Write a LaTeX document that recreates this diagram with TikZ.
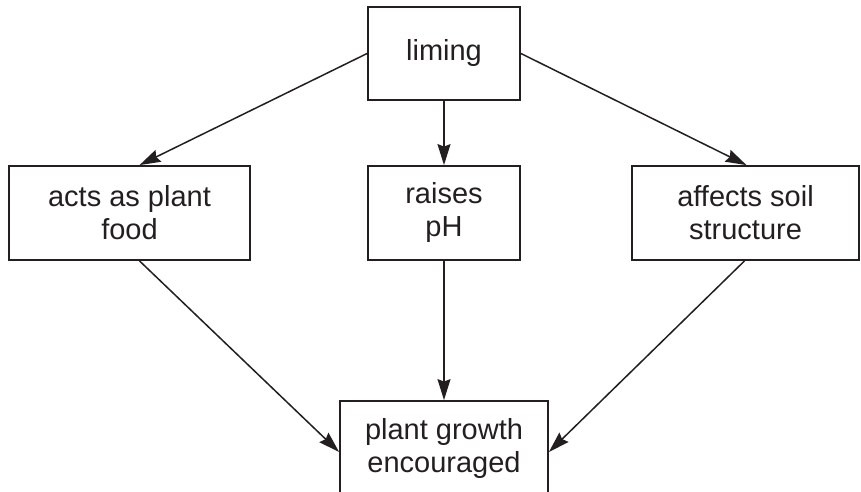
\documentclass[tikz,border=0pt]{standalone}
\usepackage{fontspec}
\setmainfont{Liberation Sans}
\usetikzlibrary{arrows.meta}
\definecolor{ink}{HTML}{231F20}
\begin{document}
\begin{tikzpicture}[x=1pt,y=-1pt,
  box/.style={draw=ink,line width=1.8pt,text=ink,align=center,inner sep=0pt,
    font=\fontsize{29}{33}\selectfont},
  arr/.style={draw=ink,line width=1.5pt,-{Stealth[length=21pt,width=13pt,inset=2.5pt]}}]
\useasboundingbox (0,0) rectangle (861,492);
\clip (0,0) rectangle (861,492);
\node[box,minimum width=152pt,minimum height=93pt] (lim) at (444,53.5) {liming};
\node[box,minimum width=241pt,minimum height=94pt] (lft) at (129.5,213) {acts as plant\\food};
\node[box,minimum width=152pt,minimum height=94pt] (mid) at (444,213) {raises\\pH};
\node[box,minimum width=227pt,minimum height=94pt] (rgt) at (745.5,213) {affects soil\\structure};
\node[box,minimum width=208pt,minimum height=94pt] (bot) at (444,448) {plant growth\\encouraged};
\draw[arr] (lim.west) -- ([xshift=10pt]lft.north);
\draw[arr] (lim.south) -- (mid.north);
\draw[arr] (lim.east) -- ([xshift=1pt]rgt.north);
\draw[arr] ([xshift=10pt]lft.south) -- ([yshift=-4pt]bot.west);
\draw[arr] (mid.south) -- (bot.north);
\draw[arr] ([xshift=-1pt]rgt.south) -- ([yshift=-4pt]bot.east);
\end{tikzpicture}
\end{document}
